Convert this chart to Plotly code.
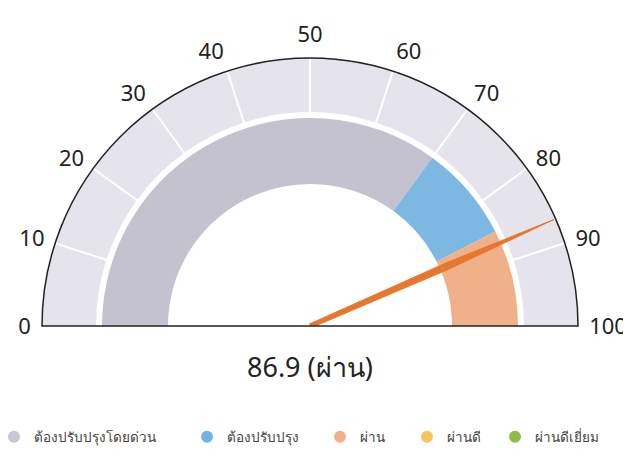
import plotly.graph_objects as go

# ---- data ----
scale_ticks = [0, 10, 20, 30, 40, 50, 60, 70, 80, 90, 100]
band_starts = [0, 70, 85]
band_ends = [70, 85, 100]
band_colors = ["#c5c2d0", "#7db8e3", "#f0b089"]
score = 86.9
score_label = "ผ่าน"
legend_names = ["ต้องปรับปรุงโดยด่วน", "ต้องปรับปรุง", "ผ่าน", "ผ่านดี", "ผ่านดีเยี่ยม"]
legend_colors = ["#c9c7d4", "#6fb3e8", "#f1b08a", "#f6c35c", "#8dbd45"]


def th(v):
    """score (0..100) -> polar angle in degrees (0 on the left, 100 on the right)"""
    return 180 - v * 1.8


# page body has an 8px default margin: size the figure to fill the 631x474 window
PAGE = 8
W, H = 631 - PAGE, 474 - PAGE

R_OUT = 268
OUT_BASE = 214
IN_BASE = 142
IN_TOP = 208

fig = go.Figure()

# outer segmented band
seg_lo = scale_ticks[:-1]
seg_hi = scale_ticks[1:]
fig.add_trace(go.Barpolar(
    r=[R_OUT - OUT_BASE] * len(seg_lo),
    base=[OUT_BASE] * len(seg_lo),
    theta=[th((a + b) / 2) for a, b in zip(seg_lo, seg_hi)],
    width=[(b - a) * 1.8 for a, b in zip(seg_lo, seg_hi)],
    marker=dict(color="#e5e4ed", line=dict(width=0)),
    showlegend=False, hoverinfo="skip",
))
# white separators at each inner tick
for v in scale_ticks[1:-1]:
    fig.add_trace(go.Scatterpolar(
        r=[OUT_BASE - 2, R_OUT - 1], theta=[th(v), th(v)], mode="lines",
        line=dict(color="white", width=2),
        showlegend=False, hoverinfo="skip",
    ))

# inner coloured band
fig.add_trace(go.Barpolar(
    r=[IN_TOP - IN_BASE] * len(band_starts),
    base=[IN_BASE] * len(band_starts),
    theta=[th((a + b) / 2) for a, b in zip(band_starts, band_ends)],
    width=[(b - a) * 1.8 for a, b in zip(band_starts, band_ends)],
    marker=dict(color=band_colors, line=dict(width=0)),
    showlegend=False, hoverinfo="skip",
))

# needle (tapered)
t = th(score)
fig.add_trace(go.Scatterpolar(
    r=[5, 150, 266, 150, 5],
    theta=[t - 25, t - 1.3, t, t + 1.3, t + 25],
    mode="lines", fill="toself", fillcolor="#e8772e",
    line=dict(color="#e8772e", width=1),
    showlegend=False, hoverinfo="skip",
))
fig.add_trace(go.Scatterpolar(
    r=[0, 6], theta=[t, t], mode="lines",
    line=dict(color="#e8772e", width=5),
    showlegend=False, hoverinfo="skip",
))

# legend entries, one legend box per entry
legend_x_px = [0, 193, 326, 413, 501]
legend_layouts = {}
for i, (name, col) in enumerate(zip(legend_names, legend_colors)):
    key = "legend" if i == 0 else f"legend{i + 1}"
    fig.add_trace(go.Scatterpolar(
        r=[None], theta=[None], mode="markers", name=name, legend=key,
        marker=dict(color=col, size=12, symbol="circle"),
    ))
    legend_layouts[key] = dict(
        orientation="h", x=legend_x_px[i] / W, xanchor="left",
        y=(H - 429) / H, yanchor="middle", indentation=-14,
        font=dict(size=13.5, color="#444"), bgcolor="rgba(0,0,0,0)",
    )

fig.update_layout(
    width=W, height=H,
    margin=dict(l=0, r=0, t=0, b=0),
    paper_bgcolor="white",
    font=dict(family="Noto Sans, sans-serif", color="#222"),
    polar=dict(
        domain=dict(x=[34 / W, 570 / W], y=[(H - 318) / H, (H - 50) / H]),
        sector=[0, 180],
        bgcolor="rgba(0,0,0,0)",
        barmode="overlay",
        radialaxis=dict(range=[0, R_OUT], visible=False),
        angularaxis=dict(
            type="linear", thetaunit="degrees",
            tickmode="array",
            tickvals=[th(v) for v in scale_ticks],
            ticktext=[str(v) for v in scale_ticks],
            showline=True, linecolor="#222", linewidth=1.5,
            showgrid=False,
            ticks="outside", ticklen=6, tickcolor="rgba(0,0,0,0)",
            tickfont=dict(size=22, color="#222"),
        ),
    ),
    annotations=[dict(
        text=f"{score} ({score_label})", x=302 / W, y=(H - 358) / H,
        xref="paper", yref="paper", xanchor="center", yanchor="middle",
        showarrow=False, font=dict(size=27, color="#222"),
    )],
    **legend_layouts,
)

fig.write_html("out.html")
